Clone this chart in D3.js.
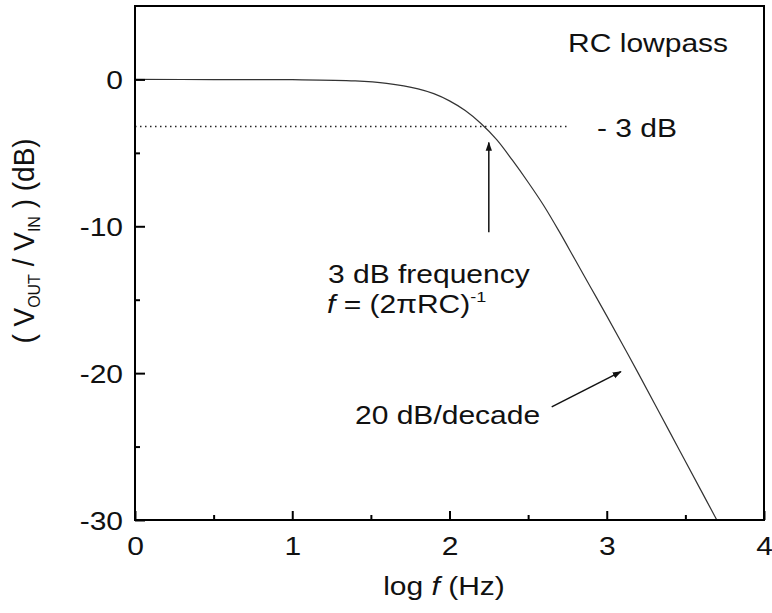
<!doctype html>
<html>
	<head>
	<meta charset="utf-8">
	<style>
		body {
			margin: 0;
			background: #fff;
		}
		text {
			font-family: "Liberation Sans", Arial, sans-serif;
			fill: #111;
		}
		.axis line {
			stroke: #000;
			stroke-width: 2;
		}
	</style>
	<script src="https://d3js.org/d3.v7.min.js"></script>
	</head>

	<body>
	<script>

	// response: log f (Hz) vs gain (dB)
	var logF = [0, 0.5, 1.0, 1.4, 1.6, 1.8, 1.9, 2.0, 2.1, 2.2, 2.3, 2.4, 2.5, 2.6, 2.7, 2.8, 2.9, 3.0, 3.2, 3.4, 3.6, 3.7];
	var gain = [0, -0.01, -0.02, -0.1, -0.27, -0.64, -0.97, -1.46, -2.12, -3.0, -4.1, -5.5, -7.0, -8.6, -10.4, -12.3, -14.2, -16.1, -20.0, -24.0, -28.0, -30.0];

	var xTicks = [0, 1, 2, 3, 4];
	var xMinor = [0.5, 1.5, 2.5, 3.5];
	var yTicks = [0, -10, -20, -30];
	var yMinor = [-5, -15, -25];

	// -3 dB reference line
	var refLine = [[0, -3.2], [2.75, -3.2]];
	// arrows: [from, to] in data units
	var arrows = [
		[[2.25, -10.4], [2.25, -4.3]],
		[[2.65, -22.3], [3.09, -19.9]]
	];

	var margin = {top: 6, right: 8, bottom: 93, left: 135};
	var width = 772 - margin.left - margin.right,
		height = 613 - margin.top - margin.bottom;

	// the original figure is stretched sideways a bit
	var sx = 1.2;

	var x = d3.scaleLinear().domain([0, 4]).range([0, width]);
	var y = d3.scaleLinear().domain([-30, 5]).range([height, 0]);

	var svg = d3.select("body").append("svg")
		.attr("width", 772)
		.attr("height", 613);

	var defs = svg.append("defs");
	defs.append("marker")
		.attr("id", "head")
		.attr("viewBox", "0 0 10 10")
		.attr("refX", 9).attr("refY", 5)
		.attr("markerWidth", 9).attr("markerHeight", 9)
		.attr("markerUnits", "userSpaceOnUse")
		.attr("orient", "auto")
	  .append("path")
		.attr("d", "M0,1.5 L10,5 L0,8.5 Z")
		.attr("fill", "#111");
	defs.append("clipPath").attr("id", "clip")
	  .append("rect").attr("width", width).attr("height", height);

	var g = svg.append("g")
		.attr("transform", "translate(" + margin.left + "," + margin.top + ")");

	// curve
	var pts = logF.map(function(d, i) { return [d, gain[i]]; });
	g.append("path")
		.datum(pts)
		.attr("clip-path", "url(#clip)")
		.attr("fill", "none")
		.attr("stroke", "#333")
		.attr("stroke-width", 1.2)
		.attr("d", d3.line()
			.x(function(d) { return x(d[0]); })
			.y(function(d) { return y(d[1]); })
			.curve(d3.curveCatmullRom.alpha(0.5)));

	// dotted -3 dB line
	g.append("path")
		.datum(refLine)
		.attr("fill", "none")
		.attr("stroke", "#222")
		.attr("stroke-width", 1.5)
		.attr("stroke-dasharray", "1.5,3.5")
		.attr("d", d3.line()
			.x(function(d) { return x(d[0]); })
			.y(function(d) { return y(d[1]); }));

	// arrows
	g.selectAll(".arrow")
		.data(arrows)
	  .enter().append("line")
		.attr("class", "arrow")
		.attr("x1", function(d) { return x(d[0][0]); })
		.attr("y1", function(d) { return y(d[0][1]); })
		.attr("x2", function(d) { return x(d[1][0]); })
		.attr("y2", function(d) { return y(d[1][1]); })
		.attr("stroke", "#111")
		.attr("stroke-width", 1.5)
		.attr("marker-end", "url(#head)");

	// frame
	g.append("rect")
		.attr("width", width)
		.attr("height", height)
		.attr("fill", "none")
		.attr("stroke", "#000")
		.attr("stroke-width", 2);

	// axes, ticks inward
	var fmt = function(d) { return String(d); };
	var xAxis = g.append("g").attr("class", "axis")
		.attr("transform", "translate(0," + height + ")")
		.call(d3.axisBottom(x).tickValues(xTicks).tickSize(-9).tickPadding(17).tickFormat(fmt));
	g.append("g").attr("class", "axis")
		.attr("transform", "translate(0," + height + ")")
		.call(d3.axisBottom(x).tickValues(xMinor).tickSize(-5).tickFormat(""));
	var yAxis = g.append("g").attr("class", "axis")
		.call(d3.axisLeft(y).tickValues(yTicks).tickSize(-10).tickFormat(fmt));
	g.append("g").attr("class", "axis")
		.call(d3.axisLeft(y).tickValues(yMinor).tickSize(-5).tickFormat(""));
	g.selectAll(".axis .domain").remove();
	g.selectAll(".axis text")
		.attr("font-family", "Liberation Sans, Arial, sans-serif")
		.attr("font-size", 25)
		.attr("fill", "#111")
		.attr("transform", "scale(" + sx + ",1)");
	yAxis.selectAll("text").attr("x", -12 / sx).attr("dy", "0.36em");

	// annotations
	function note(px, py) {
		return g.append("text")
			.attr("transform", "translate(" + x(px) + "," + y(py) + ") scale(" + sx + ",1)")
			.attr("font-size", 25);
	}

	note(2.754, 1.86).text("RC lowpass");
	note(2.938, -3.93).text("- 3 dB");
	note(1.227, -13.89).text("3 dB frequency");

	var ft = note(1.221, -15.93);
	ft.append("tspan").attr("font-style", "italic").text("f");
	ft.append("tspan").text(" = (2\u03c0RC)");
	ft.append("tspan").attr("font-size", 15).attr("dy", -11).text("-1");

	note(1.399, -23.43).text("20 dB/decade");

	// axis titles
	var xl = svg.append("text")
		.attr("transform", "translate(444,595) scale(" + sx + ",1)")
		.attr("text-anchor", "middle")
		.attr("font-size", 25);
	xl.append("tspan").text("log ");
	xl.append("tspan").attr("font-style", "italic").text("f");
	xl.append("tspan").text(" (Hz)");

	var yl = svg.append("text")
		.attr("transform", "translate(34,241) rotate(-90) scale(1,1.05)")
		.attr("text-anchor", "middle")
		.attr("font-size", 28);
	yl.append("tspan").text("( V");
	yl.append("tspan").attr("font-size", 16).attr("dy", 6).text("OUT");
	yl.append("tspan").attr("dy", -6).text(" / V");
	yl.append("tspan").attr("font-size", 16).attr("dy", 6).text("IN");
	yl.append("tspan").attr("dy", -6).text(" ) (dB)");

	</script>
	</body>
</html>
